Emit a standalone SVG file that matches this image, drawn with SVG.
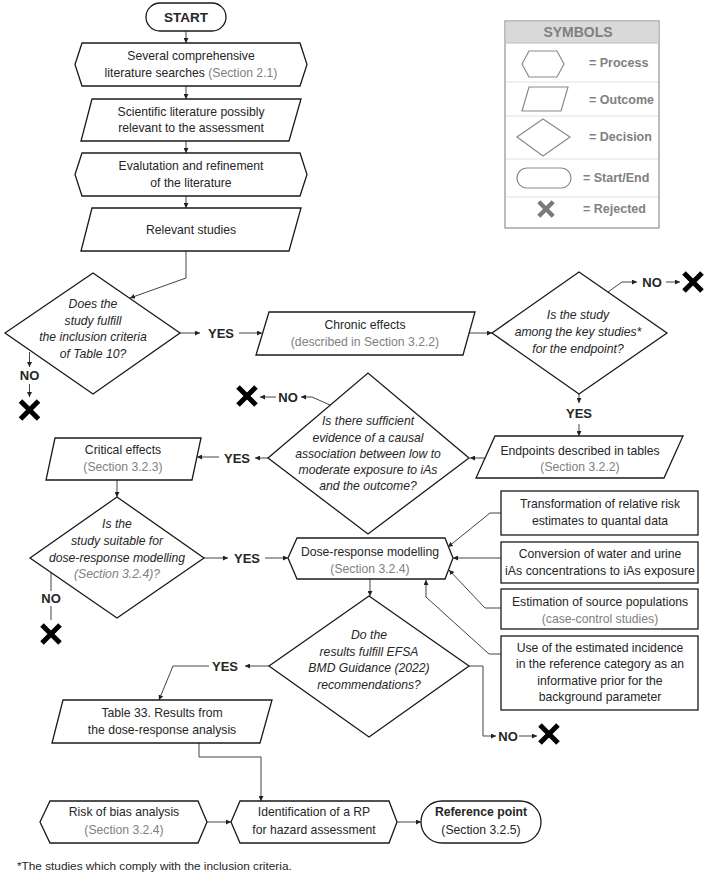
<svg xmlns="http://www.w3.org/2000/svg" width="709" height="888" viewBox="0 0 709 888">
<style>
text{font-family:"Liberation Sans",Arial,sans-serif;font-size:12.2px;fill:#262626;text-anchor:middle}
.it{font-style:italic}
.b{font-weight:bold;font-size:13px}
.g{fill:#808080}
.sh{fill:#fff;stroke:#1a1a1a;stroke-width:1.3}
.cn{fill:none;stroke:#444;stroke-width:1}
.ar{marker-end:url(#ah)}
.sym{fill:#fff;stroke:#8a8a8a;stroke-width:1.2}
.st{fill:#808080;font-weight:bold;font-size:12.5px;text-anchor:start}
.x{stroke:#000;stroke-width:5;fill:none}
</style>
<defs>
<marker id="ah" viewBox="0 0 6 6" refX="6" refY="3" markerWidth="5" markerHeight="5" markerUnits="userSpaceOnUse" orient="auto"><path d="M0,0 L6,3 L0,6 z" fill="#222"/></marker>
<path id="xm" d="M-9,-9 L9,9 M9,-9 L-9,9"/>
</defs>

<g id="symbols">
<rect x="505" y="21" width="154" height="207" fill="#fff" stroke="#999" stroke-width="1.3"/>
<rect x="505.6" y="21.6" width="152.8" height="21.4" fill="#d9d9d9"/>
<text x="578" y="37" class="b" style="fill:#808080;font-size:14px">SYMBOLS</text>
<g stroke="#e0e0e0" stroke-width="1"><line x1="506" y1="82" x2="658" y2="82"/><line x1="506" y1="116" x2="658" y2="116"/><line x1="506" y1="159" x2="658" y2="159"/><line x1="506" y1="197" x2="658" y2="197"/></g>
<line x1="506" y1="43" x2="658" y2="43" stroke="#bbb"/>
<polygon class="sym" points="522,64 529,51 557,51 564,64 557,77 529,77"/>
<text x="589" y="66.5" class="st">= Process</text>
<polygon class="sym" points="529,87 568,87 561,111 522,111"/>
<text x="589" y="104" class="st">= Outcome</text>
<polygon class="sym" points="517,137 543,119 570,137 543,156"/>
<text x="589" y="141" class="st">= Decision</text>
<rect class="sym" x="517" y="168" width="54" height="20" rx="10"/>
<text x="583" y="182" class="st">= Start/End</text>
<use href="#xm" transform="translate(546,209) scale(0.8)" stroke="#7a7a7a" stroke-width="5.5" fill="none"/>
<text x="583" y="213" class="st">= Rejected</text>
</g>

<g id="connectors">
<line class="cn ar" x1="186" y1="31" x2="186" y2="43"/>
<line class="cn ar" x1="186" y1="86" x2="186" y2="99"/>
<line class="cn ar" x1="186" y1="141" x2="186" y2="153"/>
<line class="cn ar" x1="186" y1="196" x2="186" y2="208"/>
<polyline class="cn ar" points="186,251 186,278 130,298"/>
<line class="cn ar" x1="180" y1="333" x2="200" y2="333"/>
<line class="cn ar" x1="239" y1="333" x2="262" y2="333"/>
<line class="cn ar" x1="29.5" y1="352" x2="29.5" y2="367"/>
<line class="cn ar" x1="29.5" y1="384" x2="29.5" y2="397"/>
<line class="cn ar" x1="469" y1="333" x2="492" y2="333"/>
<polyline class="cn ar" points="608,292 622,282 637,282"/>
<line class="cn ar" x1="666" y1="282" x2="680" y2="282"/>
<line class="cn ar" x1="579" y1="394" x2="579" y2="403"/>
<line class="cn ar" x1="579" y1="424" x2="579" y2="436"/>
<line class="cn ar" x1="485" y1="458" x2="470" y2="458"/>
<polyline class="cn ar" points="330,405 312,397 301,397"/>
<line class="cn ar" x1="276" y1="397" x2="260" y2="397"/>
<line class="cn ar" x1="268" y1="458" x2="255" y2="458"/>
<line class="cn ar" x1="219" y1="457" x2="197" y2="457"/>
<line class="cn ar" x1="117" y1="480" x2="117" y2="497"/>
<line class="cn ar" x1="204" y1="558" x2="228" y2="558"/>
<line class="cn ar" x1="265" y1="558" x2="288" y2="558"/>
<line class="cn" x1="51" y1="573" x2="51" y2="591"/>
<line class="cn" x1="51" y1="606" x2="51" y2="620"/>
<polyline class="cn ar" points="501,513 490,513 448,547"/>
<line class="cn ar" x1="501" y1="558" x2="453" y2="558"/>
<polyline class="cn ar" points="501,608 485,608 449,570"/>
<polyline class="cn ar" points="501,654 489,654 426,597 426,580"/>
<line class="cn ar" x1="370" y1="579" x2="370" y2="596"/>
<polyline class="cn ar" points="469,666 483,666 483,736 496,736"/>
<line class="cn ar" x1="519" y1="736" x2="537" y2="736"/>
<line class="cn ar" x1="269" y1="666" x2="245" y2="666"/>
<polyline class="cn ar" points="209,666 173,666 159,700"/>
<polyline class="cn ar" points="199,743 199,757 261,757 261,801"/>
<line class="cn ar" x1="207" y1="822" x2="231" y2="822"/>
<line class="cn ar" x1="397" y1="822" x2="421" y2="822"/>
</g>

<g id="labels">
<text x="221" y="337.5" class="b">YES</text>
<text x="29.5" y="380" class="b">NO</text>
<text x="652" y="286.5" class="b">NO</text>
<text x="579" y="418" class="b">YES</text>
<text x="288" y="401.5" class="b">NO</text>
<text x="237" y="462.5" class="b">YES</text>
<text x="247" y="562.5" class="b">YES</text>
<text x="51" y="602.5" class="b">NO</text>
<text x="508" y="740.5" class="b">NO</text>
<text x="225" y="670.5" class="b">YES</text>
</g>

<g id="rejects">
<use href="#xm" class="x" transform="translate(29.5,410)"/>
<use href="#xm" class="x" transform="translate(693,282)"/>
<use href="#xm" class="x" transform="translate(247,396)"/>
<use href="#xm" class="x" transform="translate(51,634)"/>
<use href="#xm" class="x" transform="translate(549,734)"/>
</g>

<g id="start">
<rect class="sh" x="146" y="3" width="80" height="28" rx="14"/>
<text x="186" y="21.5" class="b" style="font-size:13.5px">START</text>
</g>

<g id="searches">
<polygon class="sh" points="75,64.5 82,43 300,43 307,64.5 300,86 82,86"/>
<text x="191" y="60">Several comprehensive</text>
<text x="191" y="77">literature searches <tspan class="g">(Section 2.1)</tspan></text>
</g>

<g id="scientific">
<polygon class="sh" points="92,99 301,99 289,141 81,141"/>
<text x="191" y="115.5">Scientific literature possibly</text>
<text x="191" y="132">relevant to the assessment</text>
</g>

<g id="evaluation">
<polygon class="sh" points="75,174.5 82,153 300,153 307,174.5 300,196 82,196"/>
<text x="191" y="170">Evalutation and refinement</text>
<text x="191" y="186.5">of the literature</text>
</g>

<g id="relevant">
<polygon class="sh" points="92,208 301,208 289,251 81,251"/>
<text x="191" y="234">Relevant studies</text>
</g>

<g id="d-inclusion">
<polygon class="sh" points="5,333 93,273 180,333 93,394"/>
<text x="93" y="308" class="it">Does the</text>
<text x="93" y="325" class="it">study fulfill</text>
<text x="93" y="341" class="it">the inclusion criteria</text>
<text x="93" y="358" class="it">of Table 10?</text>
</g>

<g id="chronic">
<polygon class="sh" points="269,312 475,312 463,355 256,355"/>
<text x="365" y="329">Chronic effects</text>
<text x="365" y="346" class="g">(described in Section 3.2.2)</text>
</g>

<g id="d-key">
<polygon class="sh" points="492,333 579,272 667,333 579,394"/>
<text x="578" y="319" class="it">Is the study</text>
<text x="578" y="336" class="it">among the key studies*</text>
<text x="578" y="353" class="it">for the endpoint?</text>
</g>

<g id="endpoints">
<polygon class="sh" points="495,436 683,436 664,478 476,478"/>
<text x="580" y="455">Endpoints described in tables</text>
<text x="580" y="471" class="g">(Section 3.2.2)</text>
</g>

<g id="d-causal">
<polygon class="sh" points="268,458 368,373 469,458 368,534"/>
<text x="368" y="425" class="it">Is there sufficient</text>
<text x="368" y="442" class="it">evidence of a causal</text>
<text x="368" y="457.5" class="it">association between low to</text>
<text x="368" y="474" class="it">moderate exposure to iAs</text>
<text x="368" y="490" class="it">and the outcome?</text>
</g>

<g id="critical">
<polygon class="sh" points="55,438 201,438 192,480 46,480"/>
<text x="123" y="454">Critical effects</text>
<text x="123" y="471" class="g">(Section 3.2.3)</text>
</g>

<g id="d-suitable">
<polygon class="sh" points="30,558 117,497 204,558 117,618"/>
<text x="117" y="528" class="it">Is the</text>
<text x="117" y="545" class="it">study suitable for</text>
<text x="117" y="562" class="it">dose-response modelling</text>
<text x="117" y="578" class="it g">(Section 3.2.4)?</text>
</g>

<g id="dose-response">
<polygon class="sh" points="288,558 297,538 445,538 453,558 445,579 297,579"/>
<text x="370" y="556">Dose-response modelling</text>
<text x="370" y="572.5" class="g">(Section 3.2.4)</text>
</g>

<g id="transformation">
<rect class="sh" x="501" y="491" width="197" height="44"/>
<text x="600" y="508">Transformation of relative risk</text>
<text x="600" y="524.5">estimates to quantal data</text>
</g>

<g id="conversion">
<rect class="sh" x="501" y="542" width="197" height="41"/>
<text x="600" y="558">Conversion of water and urine</text>
<text x="600" y="575" textLength="190" lengthAdjust="spacingAndGlyphs">iAs concentrations to iAs exposure</text>
</g>

<g id="estimation">
<rect class="sh" x="501" y="589" width="197" height="40"/>
<text x="600" y="606">Estimation of source populations</text>
<text x="600" y="623" class="g">(case-control studies)</text>
</g>

<g id="incidence">
<rect class="sh" x="501" y="636" width="197" height="74"/>
<text x="600" y="651.5">Use of the estimated incidence</text>
<text x="600" y="668">in the reference category as an</text>
<text x="600" y="684.5">informative prior for the</text>
<text x="600" y="701">background parameter</text>
</g>

<g id="d-bmd">
<polygon class="sh" points="269,666 369,596 469,666 369,737"/>
<text x="369" y="639" class="it">Do the</text>
<text x="369" y="656" class="it">results fulfill EFSA</text>
<text x="369" y="672" class="it">BMD Guidance (2022)</text>
<text x="369" y="688.5" class="it">recommendations?</text>
</g>

<g id="table33">
<polygon class="sh" points="63,700 272,700 260,743 52,743"/>
<text x="162" y="717">Table 33. Results from</text>
<text x="162" y="733.5">the dose-response analysis</text>
</g>

<g id="risk-bias">
<polygon class="sh" points="40,822 50,801 198,801 207,822 198,843 50,843"/>
<text x="124" y="816">Risk of bias analysis</text>
<text x="124" y="834" class="g">(Section 3.2.4)</text>
</g>

<g id="identification">
<polygon class="sh" points="231,822 240,801 389,801 397,822 389,843 240,843"/>
<text x="314" y="816">Identification of a RP</text>
<text x="314" y="834">for hazard assessment</text>
</g>

<g id="reference-point">
<rect class="sh" x="421" y="801" width="120" height="42" rx="21"/>
<text x="481" y="816" class="b" style="font-size:12.2px">Reference point</text>
<text x="481" y="834">(Section 3.2.5)</text>
</g>

<text x="17" y="870" style="text-anchor:start;font-size:11.8px">*The studies which comply with the inclusion criteria.</text>
</svg>
